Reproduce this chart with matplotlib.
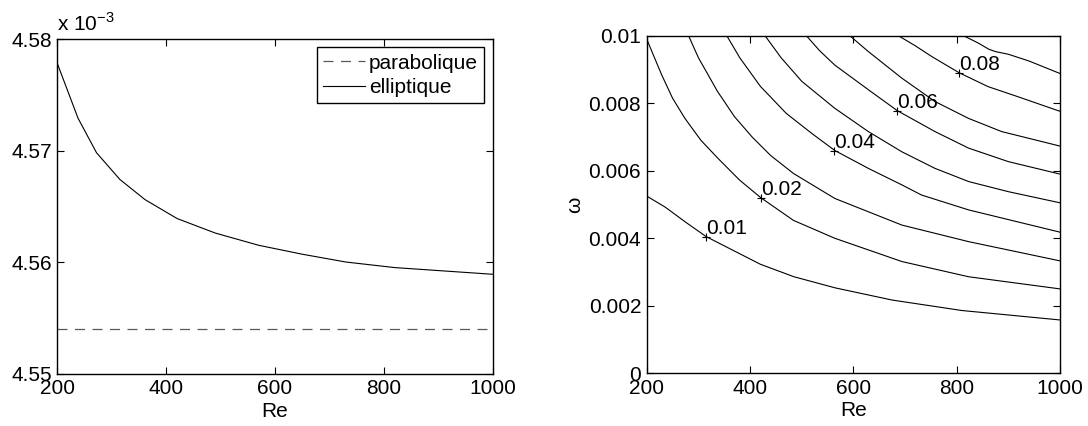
import numpy as np
import matplotlib
matplotlib.use('Agg')
import matplotlib.pyplot as plt
from matplotlib.ticker import FuncFormatter

# Courbe de gauche : coefficient en fonction de Re (valeurs en 1e-3)
re_coef = [200, 238, 272, 315, 361, 420, 490, 570, 650, 730, 820, 910, 1000]
elliptique = [4.5778, 4.5729, 4.5698, 4.5674, 4.5656, 4.5639, 4.5626, 4.5615,
              4.5607, 4.5600, 4.5595, 4.5592, 4.5589]
parabolique = [4.5540, 4.5540]
re_parab = [200, 1000]

# Courbes de niveau de droite : (Re, omega)
niveaux = [0.01, 0.02, 0.03, 0.04, 0.05, 0.06, 0.07, 0.08, 0.09]
re_iso = [
    [200, 236, 275, 315, 370, 420, 485, 565, 675, 810, 1000],
    [200, 215, 229, 250, 274, 305, 339, 380, 421, 484, 564, 694, 823, 1000],
    [281, 300, 337, 370, 404, 440, 484, 564, 694, 823, 1000],
    [355, 380, 420, 470, 520, 564, 629, 694, 732, 823, 1000],
    [429, 460, 500, 540, 564, 629, 694, 758, 823, 900, 1000],
    [509, 535, 564, 629, 685, 758, 823, 900, 1000],
    [593, 629, 694, 758, 823, 887, 1000],
    [687, 720, 752, 805, 861, 919, 1000],
    [813, 842, 862, 875, 900, 940, 1000],
]
omega_iso = [
    [0.00525, 0.00492, 0.00448, 0.00405, 0.00362, 0.00323, 0.00286, 0.00253, 0.00217, 0.00186, 0.00158],
    [0.00990, 0.00935, 0.00884, 0.00815, 0.00755, 0.00690, 0.00635, 0.00572, 0.00520, 0.00453,
     0.00400, 0.00331, 0.00286, 0.00250],
    [0.01000, 0.00935, 0.00835, 0.00760, 0.00700, 0.00645, 0.00592, 0.00518, 0.00439, 0.00390, 0.00333],
    [0.01000, 0.00935, 0.00850, 0.00770, 0.00710, 0.00660, 0.00607, 0.00558, 0.00528, 0.00484, 0.00418],
    [0.01000, 0.00935, 0.00865, 0.00815, 0.00785, 0.00716, 0.00656, 0.00607, 0.00568, 0.00538, 0.00505],
    [0.01000, 0.00955, 0.00913, 0.00840, 0.00778, 0.00716, 0.00667, 0.00627, 0.00590],
    [0.01000, 0.00953, 0.00874, 0.00805, 0.00755, 0.00716, 0.00673],
    [0.01000, 0.00970, 0.00938, 0.00890, 0.00849, 0.00819, 0.00776],
    [0.01000, 0.00978, 0.00960, 0.00953, 0.00945, 0.00925, 0.00888],
]

# Etiquettes des courbes de niveau
etiquettes = ['0.01', '0.02', '0.04', '0.06', '0.08']
etiq_re = [315, 421, 562, 685, 805]
etiq_omega = [0.00405, 0.00520, 0.00659, 0.00778, 0.00890]

FS = 15
plt.rcParams['font.family'] = ['Liberation Sans', 'DejaVu Sans']
plt.rcParams['font.size'] = FS
plt.rcParams['mathtext.fontset'] = 'custom'
plt.rcParams['mathtext.rm'] = 'Liberation Sans'


def style_axes(ax):
    # Style MATLAB : graduations vers l'intérieur sur les quatre côtés
    ax.tick_params(direction='in', top=True, right=True, length=5, width=0.8, pad=4,
                   labelsize=FS)
    for sp in ax.spines.values():
        sp.set_linewidth(1.0)


def plot_coef(ax):
    coef = np.array(elliptique) * 1e-3
    parab = np.array(parabolique) * 1e-3
    ax.plot(re_parab, parab, color='0.35', lw=0.9, linestyle=(0, (8, 6)), label='parabolique')
    ax.plot(re_coef, coef, color='black', lw=0.8, label='elliptique')
    ax.set_xlim(200, 1000)
    ax.set_ylim(4.55e-3, 4.58e-3)
    ax.set_xticks([200, 400, 600, 800, 1000])
    ax.set_yticks([4.55e-3, 4.56e-3, 4.57e-3, 4.58e-3])
    ax.yaxis.set_major_formatter(FuncFormatter(lambda v, p: f'{v * 1e3:.2f}'))
    ax.set_xlabel('Re', labelpad=2.5)
    ax.text(0.0, 1.012, r'x 10$^{\mathregular{-3}}$', transform=ax.transAxes,
            ha='left', va='bottom', fontsize=FS)
    leg = ax.legend(loc='upper right', fancybox=False, edgecolor='black',
                    handlelength=2.0, handletextpad=0.2, labelspacing=0.25,
                    borderpad=0.3, borderaxespad=0.4, framealpha=1)
    leg.get_frame().set_linewidth(1.0)
    style_axes(ax)


def plot_iso(ax):
    for re, om in zip(re_iso, omega_iso):
        ax.plot(re, om, color='black', lw=0.8)
    for txt, x, y in zip(etiquettes, etiq_re, etiq_omega):
        ax.plot(x, y, marker='+', color='black', markersize=6, mew=0.8)
        ax.annotate(txt, (x, y), xytext=(0, -0.7), textcoords='offset points',
                    ha='left', va='bottom', fontsize=FS)
    ax.set_xlim(200, 1000)
    ax.set_ylim(0, 0.01)
    ax.set_xticks([200, 400, 600, 800, 1000])
    ax.set_yticks([0, 0.002, 0.004, 0.006, 0.008, 0.01])
    ax.yaxis.set_major_formatter(FuncFormatter(lambda v, p: f'{v:g}'))
    ax.set_xlabel('Re', labelpad=2.5)
    ax.set_ylabel('ω', labelpad=3)
    style_axes(ax)


def main():
    fig = plt.figure(figsize=(10.88, 4.26), dpi=100)
    ax1 = fig.add_axes([0.0527, 0.1232, 0.4002, 0.7852])
    ax2 = fig.add_axes([0.5944, 0.1237, 0.3799, 0.7925])
    plot_coef(ax1)
    plot_iso(ax2)
    fig.savefig('out.png', dpi=100)


if __name__ == "__main__":
    main()
